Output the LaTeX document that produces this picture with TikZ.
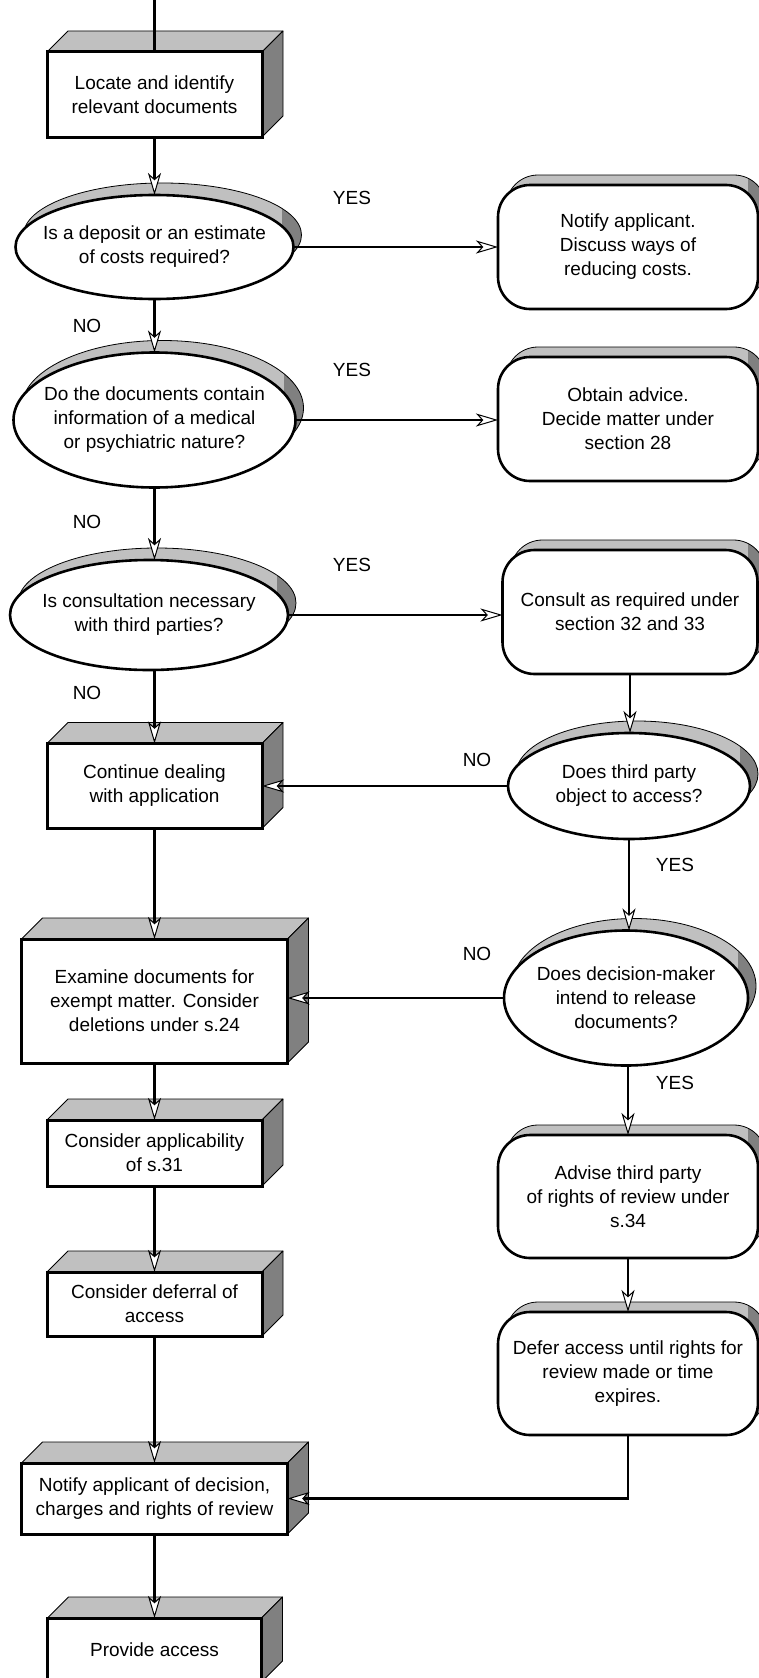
\documentclass[tikz,border=0pt]{standalone}
\usepackage{fontspec}
\setmainfont{Liberation Sans}
\usetikzlibrary{shapes.geometric,arrows.meta,calc}
\pgfdeclarelayer{background}
\pgfsetlayers{background,main}
\definecolor{lightface}{HTML}{C0C0C0}
\definecolor{darkface}{HTML}{808080}
\tikzset{
  txt/.style={font=\fontsize{19}{24}\selectfont, align=center, inner sep=0pt},
  cube/.style={txt, rectangle, draw, line width=3pt, fill=white, outer sep=0pt},
  rbox/.style={txt, rectangle, rounded corners=32pt, draw, line width=2.6pt, fill=white, outer sep=0pt, minimum height=124pt},
  decision/.style={ellipse, draw, line width=2.6pt, fill=white, inner sep=0pt, outer sep=0pt},
  face/.style={draw=black, line width=0.8pt, line join=round},
  conn/.style={line width=2.8pt},
  arr/.style={conn, -{Stealth[length=22pt,width=13pt,inset=6pt,fill=white,line width=1pt]}},
  lbl/.style={font=\fontsize{19}{24}\selectfont, inner sep=0pt, align=center},
}
\newcommand\cubefaces[1]{%
  \begin{pgfonlayer}{background}
  \filldraw[face, fill=lightface] (#1.north west) -- ++(21,-21) -- ($(#1.north east)+(21,-21)$) -- (#1.north east) -- cycle;
  \filldraw[face, fill=darkface] (#1.north east) -- ++(21,-21) -- ($(#1.south east)+(21,-21)$) -- (#1.south east) -- cycle;
  \end{pgfonlayer}}
\newcommand\rshadow[1]{%
  \begin{pgfonlayer}{background}
  \begin{scope}
  \path[clip, rounded corners=32pt] ($(#1.south west)+(8,-10)$) rectangle ($(#1.north east)+(8,-10)$);
  \fill[lightface] ($(#1.south west)+(8,-10)$) rectangle ($(#1.north east)+(8,-10)$);
  \fill[darkface] ($(#1.south east)+(-10,0)$) rectangle ($(#1.north east)+(40,-40)$);
  \end{scope}
  \draw[line width=0.8pt, rounded corners=32pt] ($(#1.south west)+(8,-10)$) rectangle ($(#1.north east)+(8,-10)$);
  \end{pgfonlayer}}
\newcommand\eshadow[3]{%
  \begin{pgfonlayer}{background}
  \begin{scope}
  \path[clip] ($(#1.center)+(8,-12)$) ellipse [x radius=#2pt, y radius=#3pt];
  \fill[lightface] ($(#1.center)+(8,-12)$) ellipse [x radius=#2pt, y radius=#3pt];
  \fill[darkface] ($(#1.center)+(0.92*#2,-200)$) rectangle ++(200,400);
  \end{scope}
  \draw[line width=0.8pt] ($(#1.center)+(8,-12)$) ellipse [x radius=#2pt, y radius=#3pt];
  \end{pgfonlayer}}
\begin{document}
\begin{tikzpicture}[x=1pt,y=-1pt]
\useasboundingbox (0,0) rectangle (759,1678);

% left column boxes
\node[cube, minimum width=215pt, minimum height=85pt] (b1) at (154.5,94.5) {Locate and identify\\relevant documents};
\cubefaces{b1}
\node[cube, minimum width=215pt, minimum height=85pt] (b2) at (154.5,786) {Continue dealing\\with application};
\cubefaces{b2}
\node[cube, minimum width=266pt, minimum height=124pt] (b3) at (154.5,1001) {Examine documents for\\exempt matter. Consider\\deletions under s.24};
\cubefaces{b3}
\node[cube, minimum width=215pt, minimum height=66pt] (b4) at (154.5,1153) {Consider applicability\\of s.31};
\cubefaces{b4}
\node[cube, minimum width=215pt, minimum height=64pt] (b5) at (154.5,1304) {Consider deferral of\\access};
\cubefaces{b5}
\node[cube, minimum width=266pt, minimum height=71pt] (b6) at (154.5,1498.5) {Notify applicant of decision,\\charges and rights of review};
\cubefaces{b6}
\node[cube, minimum width=214pt, minimum height=64pt] (b7) at (154.5,1650) {Provide access};
\cubefaces{b7}

% decisions
\node[decision, minimum width=278pt, minimum height=104pt] (e1) at (154.5,247) {};
\eshadow{e1}{139}{52}
\node[lbl] (e1t) at (e1.center) {Is a deposit or an estimate\\of costs required?};
\node[decision, minimum width=282pt, minimum height=135pt] (e2) at (154.5,420) {};
\eshadow{e2}{141}{67.5}
\node[lbl] (e2t) at (e2.center) {Do the documents contain\\information of a medical\\or psychiatric nature?};
\node[decision, minimum width=278pt, minimum height=110pt] (e3) at (149,615) {};
\eshadow{e3}{139}{55}
\node[lbl] (e3t) at (e3.center) {Is consultation necessary\\with third parties?};
\node[decision, minimum width=242pt, minimum height=106pt] (e4) at (629,786) {};
\eshadow{e4}{121}{53}
\node[lbl] (e4t) at (e4.center) {Does third party\\object to access?};
\node[decision, minimum width=244pt, minimum height=135pt] (e5) at (626,998) {};
\eshadow{e5}{122}{67.5}
\node[lbl] (e5t) at (e5.center) {Does decision-maker\\intend to release\\documents?};

% right column rounded boxes
\node[rbox, minimum width=260pt] (r1) at (628,247) {Notify applicant.\\Discuss ways of\\ reducing costs.};
\rshadow{r1}
\node[rbox, minimum width=260pt] (r2) at (628,419) {Obtain advice.\\Decide matter under\\section 28};
\rshadow{r2}
\node[rbox, minimum width=255pt] (r3) at (630,612) {Consult as required under\\section 32 and 33};
\rshadow{r3}
\node[rbox, minimum width=260pt, minimum height=123pt] (r4) at (628,1196.5) {Advise third party\\of rights of review under\\s.34};
\rshadow{r4}
\node[rbox, minimum width=260pt, minimum height=123pt] (r5) at (628,1373.5) {Defer access until rights for\\review made or time\\expires.};
\rshadow{r5}

% labels
\node[lbl] (y1) at (352,198) {YES};
\node[lbl] (y2) at (352,370) {YES};
\node[lbl] (y3) at (352,565) {YES};
\node[lbl] (n1) at (87,326) {NO};
\node[lbl] (n2) at (87,522) {NO};
\node[lbl] (n3) at (87,693) {NO};
\node[lbl] (n4) at (477,760) {NO};
\node[lbl] (n5) at (477,954) {NO};
\node[lbl] (y4) at (675,865) {YES};
\node[lbl] (y5) at (675,1083) {YES};

% connectors
\coordinate (start) at (154.5,0);
\draw[conn] (start) -- (b1.north);
\draw[arr] (b1.south) -- (e1.north);
\draw[arr] (e1.east) -- (e1.east -| r1.west);
\draw[arr] (e1.south) -- (e2.north);
\draw[arr] (e2.east) -- (e2.east -| r2.west);
\draw[arr] (e2.south) -- (e2.south |- e3.north);
\draw[arr] (e3.east) -- (e3.east -| r3.west);
\draw[arr] (e3.south -| b2.north) -- (b2.north);
\draw[arr] (r3.south) -- (r3.south |- e4.north);
\draw[arr] (e4.west) -- (e4.west -| b2.east);
\draw[arr] (b2.south) -- (b3.north);
\draw[arr] (e4.south) -- (e4.south |- e5.north);
\draw[arr] (e5.west) -- (e5.west -| b3.east);
\draw[arr] (e5.south -| r4.north) -- (r4.north);
\draw[arr] (b3.south) -- (b4.north);
\draw[arr] (b4.south) -- (b5.north);
\draw[arr] (b5.south) -- (b6.north);
\draw[arr] (r4.south) -- (r5.north);
\draw[arr] (r5.south) |- (b6.east);
\draw[arr] (b6.south) -- (b7.north);
\end{tikzpicture}
\end{document}
